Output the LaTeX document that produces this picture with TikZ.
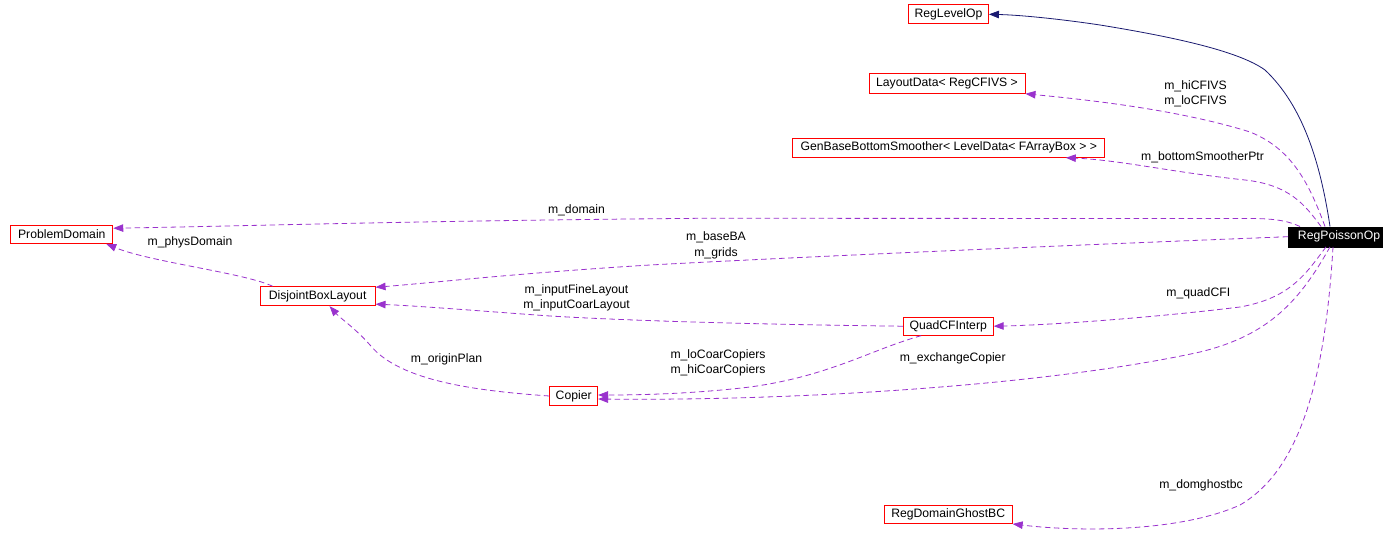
\documentclass[tikz,border=0pt]{standalone}
\usepackage{fontspec}
\setmainfont{Liberation Sans}
\usetikzlibrary{arrows.meta,calc}
\definecolor{edgepurple}{HTML}{9A32CD}
\definecolor{edgenavy}{HTML}{191970}
\begin{document}
\begin{tikzpicture}[x=1pt,y=-1pt,
  every node/.style={font=\fontsize{12.2}{15.7}\selectfont, inner sep=0pt},
  cls/.style={draw=red, line width=0.9pt, fill=white},
  mainbox/.style={draw=black, fill=black, text=white},
  lbl/.style={align=center, text=black},
  usage/.style={draw=edgepurple, line width=0.8pt, dash pattern=on 5.5pt off 3.5pt, -{Triangle[length=10pt,width=7.5pt]}, edgepurple},
  inherit/.style={draw=edgenavy, line width=0.8pt, -{Triangle[length=10pt,width=7.5pt]}, edgenavy}]
\useasboundingbox[fill=white] (0,0) rectangle (1394,540);

% nodes
\node[cls, minimum width=80pt, minimum height=19pt] (rlo) at (948.5,14.3) {RegLevelOp};
\node[cls, minimum width=156pt, minimum height=20pt] (ld) at (947,83.3) {LayoutData< RegCFIVS >};
\node[cls, minimum width=312pt, minimum height=19pt] (gb) at (948.8,147.8) {GenBaseBottomSmoother< LevelData< FArrayBox > >};
\node[cls, minimum width=102pt, minimum height=18.5pt] (pd) at (61.8,234.2) {ProblemDomain};
\node[mainbox, minimum width=93.4pt, minimum height=20pt] (rpo) at (1335,236.7) {\hspace*{8pt}RegPoissonOp};
\node[cls, minimum width=115pt, minimum height=19pt] (dbl) at (317.6,296.2) {DisjointBoxLayout};
\node[cls, minimum width=90pt, minimum height=18pt] (qcf) at (948.2,326.2) {QuadCFInterp};
\node[cls, minimum width=48pt, minimum height=18.5pt] (cop) at (573.7,396) {Copier};
\node[cls, minimum width=128pt, minimum height=18pt] (rdg) at (948.2,514.5) {RegDomainGhostBC};

% inheritance
\draw[inherit] ($(rpo.north)+(-5,0)$) .. controls (1320,160) and (1302,105) .. (1265,70)
  .. controls (1240,52) and (1180,38) .. (1100,25)
  .. controls (1060,19) and (1020,15) .. (rlo.east);

% usage edges
\draw[usage] ($(rpo.north)+(-10,0)$) .. controls (1308,180) and (1290,148) .. (1250,132)
  .. controls (1180,110) and (1090,100) .. (ld.south east);
\node[lbl] (l1) at (1195.5,93.9) {m\_hiCFIVS\\m\_loCFIVS};

\draw[usage] ($(rpo.north)+(-14,0)$) .. controls (1305,205) and (1290,185) .. (1245,180)
  .. controls (1170,172) and (1120,160) .. ($(gb.south)+(117,0)$);
\node[lbl] (l2) at (1202.5,157.7) {m\_bottomSmootherPtr};

\draw[usage] ($(rpo.north)+(-35,0)$) .. controls (1290,222) and (1280,219) .. (1255,218.5)
  -- (700,218.3) .. controls (400,221) and (250,226) .. ($(pd.east)+(0,-6)$);
\node[lbl] (l3) at (576.5,210) {m\_domain};

\draw[usage] (rpo.west) .. controls (1000,248) and (780,258) .. (650,265)
  .. controls (520,273) and (430,283) .. ($(dbl.north east)+(0,1)$);
\node[lbl] (l4) at (716,245) {m\_baseBA\\m\_grids};

\draw[usage] ($(dbl.north)+(-45,0)$) .. controls (245,273) and (150,262) .. ($(pd.south east)+(-7,0)$);
\node[lbl] (l5) at (190,242.7) {m\_physDomain};

\draw[usage] (qcf.west) .. controls (800,325) and (650,322) .. (550,316)
  .. controls (480,311) and (420,306) .. ($(dbl.south east)+(0,-2)$);
\node[lbl] (l6) at (576.5,297.8) {m\_inputFineLayout\\m\_inputCoarLayout};

\draw[usage] ($(rpo.south)+(-9,0)$) .. controls (1305,275) and (1290,298) .. (1240,307)
  .. controls (1150,318) and (1050,325) .. (qcf.east);
\node[lbl] (l7) at (1198.3,293.3) {m\_quadCFI};

\draw[usage] ($(rpo.south)+(-5,0)$) .. controls (1300,300) and (1270,335) .. (1200,352)
  .. controls (1050,385) and (800,401) .. ($(cop.east)+(0,3)$);
\node[lbl] (l8) at (952.7,358.3) {m\_exchangeCopier};

\draw[usage] ($(qcf.south)+(-27,0)$) .. controls (870,350) and (830,376) .. (750,387)
  .. controls (700,393) and (650,395) .. ($(cop.east)+(0,-1)$);
\node[lbl] (l9) at (718,362.8) {m\_loCoarCopiers\\m\_hiCoarCopiers};

\draw[usage] (cop.west) .. controls (480,391) and (400,382) .. (370,345)
  .. controls (355,328) and (340,318) .. ($(dbl.south)+(12,0)$);
\node[lbl] (l10) at (446.5,359) {m\_originPlan};

\draw[usage] ($(rpo.south)+(-2,0)$) .. controls (1325,380) and (1300,470) .. (1240,505)
  .. controls (1180,532) and (1080,532) .. (rdg.south east);
\node[lbl] (l11) at (1201,485.7) {m\_domghostbc};
\end{tikzpicture}
\end{document}
